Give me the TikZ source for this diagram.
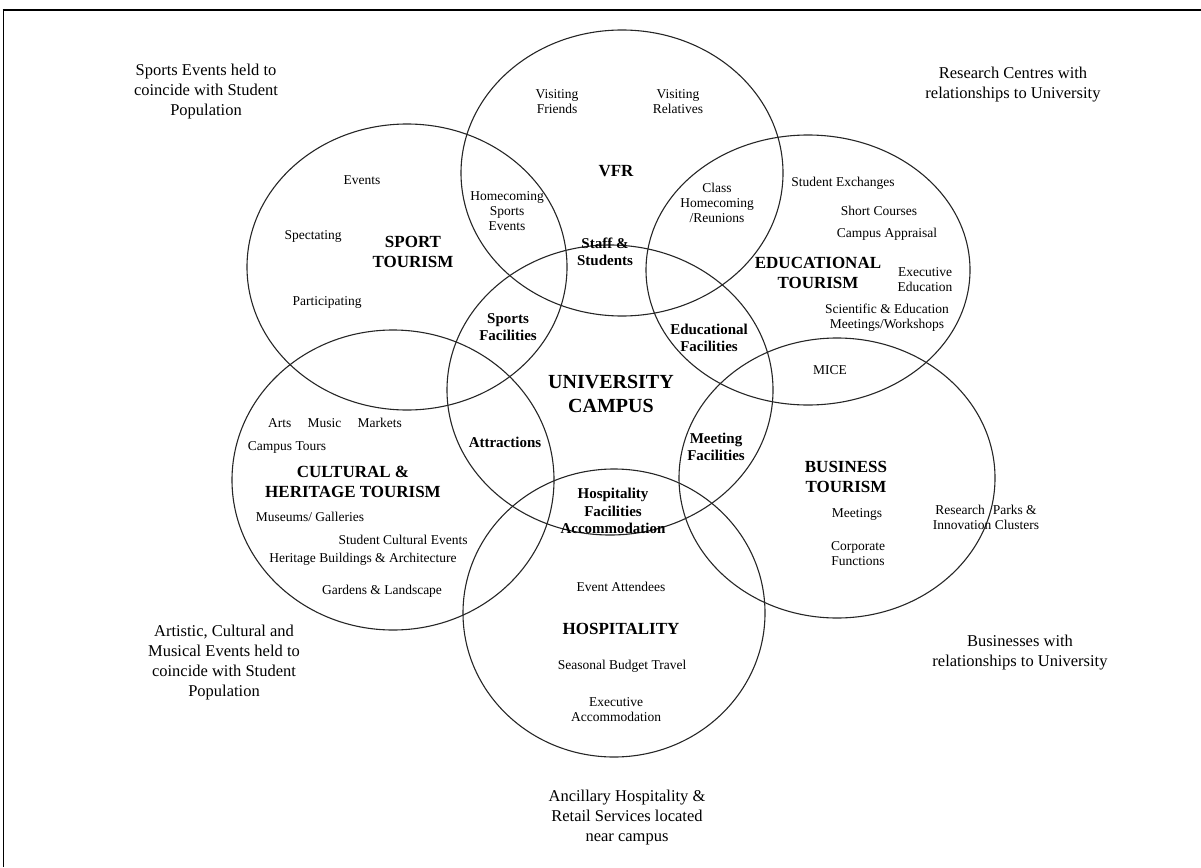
\documentclass[tikz,border=0pt]{standalone}
\usepackage{fontspec}
\setmainfont{Liberation Serif}
\begin{document}
\begin{tikzpicture}[x=1pt,y=-1pt,
  sm/.style={font=\fontsize{13.5}{15}\selectfont, align=center, inner sep=0pt},
  cat/.style={font=\fontsize{17}{20}\selectfont\bfseries, align=center, inner sep=0pt},
  mid/.style={font=\fontsize{15}{17.5}\selectfont\bfseries, align=center, inner sep=0pt},
  big/.style={font=\fontsize{20}{24}\selectfont\bfseries, align=center, inner sep=0pt},
  outer/.style={font=\fontsize{16.5}{20}\selectfont, align=center, inner sep=0pt},
  ring/.style={line width=1.1pt, draw=black!85}]
\useasboundingbox (0,0) rectangle (1201,867);
% frame
\draw[line width=0.8pt] (3.5,867) -- (3.5,10);
\draw[line width=2pt] (2.7,10) -- (1201,10);
% circles
\draw[ring] (622,173) ellipse [x radius=161pt, y radius=143pt]; % VFR
\draw[ring] (407,267) ellipse [x radius=160pt, y radius=143pt]; % sport
\draw[ring] (808,270) ellipse [x radius=162pt, y radius=135pt]; % educational
\draw[ring] (610,390) ellipse [x radius=163pt, y radius=145pt]; % campus
\draw[ring] (393,480) ellipse [x radius=161pt, y radius=150pt]; % cultural
\draw[ring] (837,478) ellipse [x radius=158pt, y radius=140pt]; % business
\draw[ring] (614,613) ellipse [x radius=151pt, y radius=144pt]; % hospitality
% outer annotations
\node[outer] (oSport) at (206,92) {Sports Events held to\\coincide with Student\\Population};
\node[outer] (oRes) at (1013,85) {Research Centres with\\relationships to University};
\node[outer] (oArt) at (224,663) {Artistic, Cultural and\\Musical Events held to\\coincide with Student\\Population};
\node[outer] (oBus) at (1020,653) {Businesses with\\relationships to University};
\node[outer] (oAnc) at (627,818) {Ancillary Hospitality \&\\Retail Services located\\near campus};
% VFR
\node[sm] (vf) at (557,102) {Visiting\\Friends};
\node[sm] (vr) at (678,102) {Visiting\\Relatives};
\node[cat] (vfr) at (616,171) {VFR};
% sport
\node[sm] (ev) at (362,180) {Events};
\node[sm] (spec) at (313,236) {Spectating};
\node[cat] (sport) at (413,252) {SPORT\\TOURISM};
\node[sm] (part) at (327,302) {Participating};
\node[sm] (home) at (507,211) {Homecoming\\Sports\\Events};
% educational
\node[sm] (cls) at (717,203) {Class\\Homecoming\\/Reunions};
\node[sm] (sx) at (843,183) {Student Exchanges};
\node[sm] (sc) at (879,211) {Short Courses};
\node[sm] (ca) at (887,234) {Campus Appraisal};
\node[cat] (edu) at (818,273) {EDUCATIONAL\\TOURISM};
\node[sm] (ee) at (925,280) {Executive\\Education};
\node[sm] (sem) at (887,318) {Scientific \& Education\\Meetings/Workshops};
\node[sm] (mice) at (830,370) {MICE};
% campus
\node[mid] (staff) at (605,252) {Staff \&\\Students};
\node[mid] (sf) at (508,327) {Sports\\Facilities};
\node[mid] (ef) at (709,338) {Educational\\Facilities};
\node[big] (uc) at (611,394) {UNIVERSITY\\CAMPUS};
\node[mid] (attr) at (505,442) {Attractions};
\node[mid] (mf) at (716,447) {Meeting\\Facilities};
\node[mid] (hf) at (613,511) {Hospitality\\Facilities\\Accommodation};
% cultural
\node[sm] (arts) at (335,423) {Arts\hspace{1.2em}Music\hspace{1.2em}Markets};
\node[sm] (tours) at (287,447) {Campus Tours};
\node[cat] (cult) at (353,482) {CULTURAL \&\\HERITAGE TOURISM};
\node[sm] (mus) at (310,517) {Museums/ Galleries};
\node[sm] (sce) at (403,540) {Student Cultural Events};
\node[sm] (hb) at (363,559) {Heritage Buildings \& Architecture};
\node[sm] (gl) at (382,591) {Gardens \& Landscape};
% business
\node[cat] (bus) at (846,477) {BUSINESS\\TOURISM};
\node[sm] (meet) at (857,514) {Meetings};
\node[sm] (corp) at (858,554) {Corporate\\Functions};
\node[sm] (rp) at (986,517) {Research\hspace{0.6em}Parks \&\\Innovation Clusters};
% hospitality
\node[sm] (ea) at (621,587) {Event Attendees};
\node[cat] (hosp) at (621,629) {HOSPITALITY};
\node[sm] (sbt) at (622,666) {Seasonal Budget Travel};
\node[sm] (exa) at (616,710) {Executive\\Accommodation};
\end{tikzpicture}
\end{document}
